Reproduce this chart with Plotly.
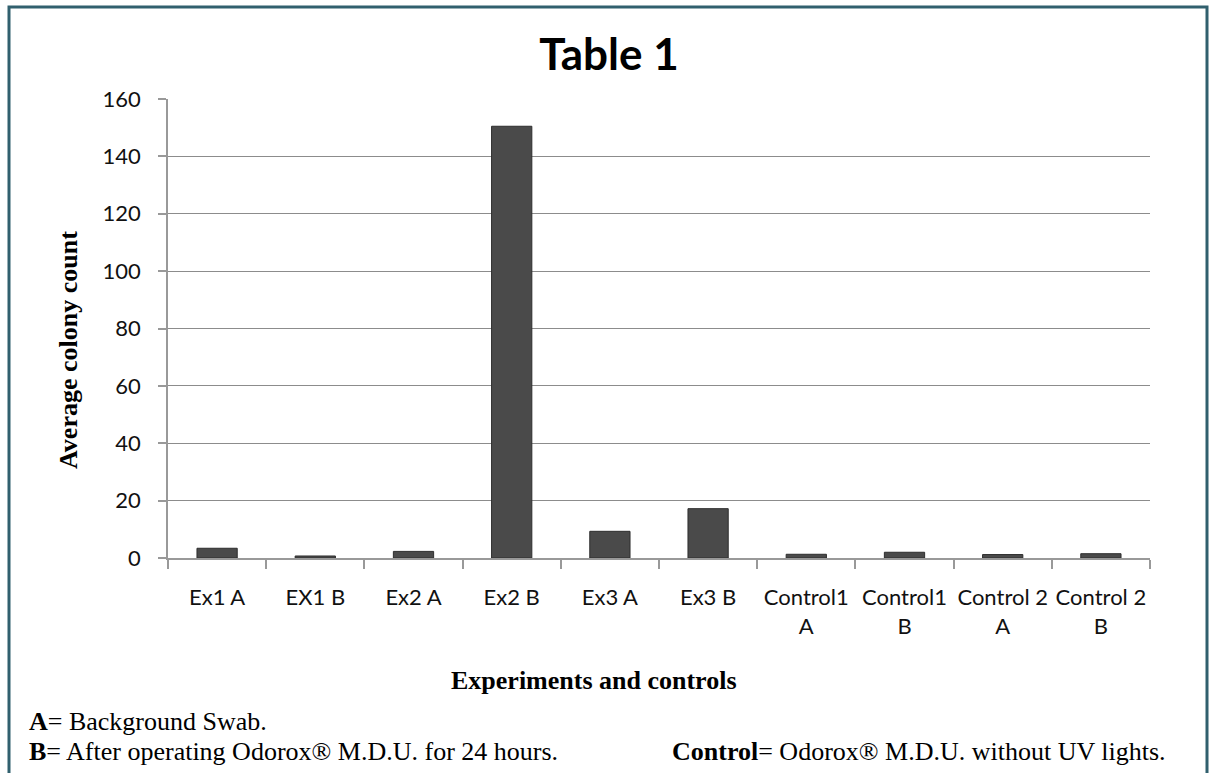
import plotly.graph_objects as go

categories = ["Ex1 A", "EX1 B", "Ex2 A", "Ex2 B", "Ex3 A", "Ex3 B",
              "Control1<br>A", "Control1<br>B", "Control 2<br>A", "Control 2<br>B"]
values = [3.4, 0.7, 2.3, 150.5, 9.3, 17.2, 1.3, 2.0, 1.2, 1.5]
y_ticks = [0, 20, 40, 60, 80, 100, 120, 140, 160]

W, H = 1211, 773
ML, MR, MT, MB = 168, 61, 99, 215
PW, PH = W - ML - MR, H - MT - MB

def px(x):
    return (x - ML) / PW

def py(y):
    return (MT + PH - y) / PH

fig = go.Figure()
fig.add_trace(go.Bar(
    x=categories, y=values,
    marker=dict(color="#4a4a4a", line=dict(color="#2e2e2e", width=1)),
    width=0.41,
))

sans = "Lato, Carlito, Arial"
serif = "Liberation Serif, Times New Roman, serif"

fig.update_layout(
    width=W, height=H,
    margin=dict(l=ML, r=MR, t=MT, b=MB),
    paper_bgcolor="white", plot_bgcolor="white",
    showlegend=False,
    bargap=0.59,
    title=dict(text="<b>Table 1</b>", xref="paper", x=px(609), xanchor="center",
               yref="container", y=1 - 55 / H, yanchor="middle",
               font=dict(family=sans, size=44, color="#000000")),
    xaxis=dict(
        type="category", tickson="boundaries", ticks="outside", ticklen=9,
        tickcolor="#999999", tickwidth=1.5, tickangle=0,
        showline=True, linecolor="#999999", linewidth=1.5,
        showgrid=False, tickfont=dict(family=sans, size=22, color="#111111"),
        ticklabelstandoff=19,
    ),
    yaxis=dict(
        range=[0, 160], tickvals=y_ticks, ticks="outside", ticklen=8,
        tickcolor="#999999", tickwidth=1.5,
        showline=True, linecolor="#999999", linewidth=1.5,
        showgrid=True, gridcolor="#8c8c8c", gridwidth=1.2,
        zeroline=False, tickfont=dict(family=sans, size=22, color="#111111"),
        ticklabelstandoff=13,
    ),
    shapes=[dict(type="rect", xref="paper", yref="paper",
                 x0=px(9), x1=px(1207), y0=py(7), y1=py(790),
                 line=dict(color="#31606e", width=3), layer="below")],
    annotations=[
        dict(text="<b>Average colony count</b>", textangle=-90,
             xref="paper", yref="paper", x=px(68), y=py(350),
             xanchor="center", yanchor="middle", showarrow=False,
             font=dict(family=serif, size=26, color="#000000")),
        dict(text="<b>Experiments and controls</b>",
             xref="paper", yref="paper", x=px(594), y=py(680),
             xanchor="center", yanchor="middle", showarrow=False,
             font=dict(family=serif, size=26, color="#000000")),
        dict(text="<b>A</b>= Background Swab.",
             xref="paper", yref="paper", x=px(27), y=py(721),
             xanchor="left", yanchor="middle", showarrow=False,
             font=dict(family=serif, size=26, color="#000000")),
        dict(text="<b>B</b>= After operating Odorox® M.D.U. for 24 hours.",
             xref="paper", yref="paper", x=px(27), y=py(751),
             xanchor="left", yanchor="middle", showarrow=False,
             font=dict(family=serif, size=26, color="#000000")),
        dict(text="<b>Control</b>= Odorox® M.D.U. without UV lights.",
             xref="paper", yref="paper", x=px(1168), y=py(751),
             xanchor="right", yanchor="middle", showarrow=False,
             font=dict(family=serif, size=26, color="#000000")),
    ],
)

fig.write_html("out.html")
